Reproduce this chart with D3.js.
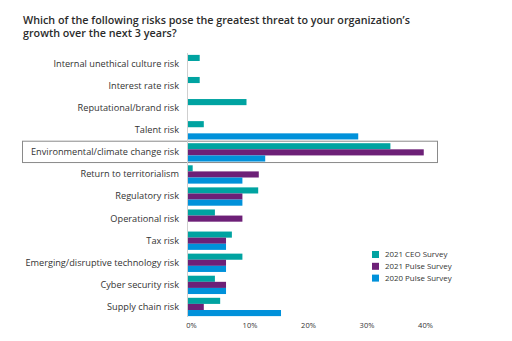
<!DOCTYPE html>
<html>
<head>
<meta charset="utf-8">
<script src="https://cdn.jsdelivr.net/npm/d3@7"></script>
<style>
  body { margin: 0; background: #fff; }
  svg { font-family: "Open Sans", sans-serif; }
</style>
</head>
<body>
<div id="chart"></div>
<script>
const categories = [
  "Internal unethical culture risk",
  "Interest rate risk",
  "Reputational/brand risk",
  "Talent risk",
  "Environmental/climate change risk",
  "Return to territorialism",
  "Regulatory risk",
  "Operational risk",
  "Tax risk",
  "Emerging/disruptive technology risk",
  "Cyber security risk",
  "Supply chain risk"
]
const seriesNames = ["2021 CEO Survey", "2021 Pulse Survey", "2020 Pulse Survey"]
const ceo2021 = [2, 2, 10, 2.7, 34.6, 0.8, 12, 4.6, 7.5, 9.3, 4.6, 5.5]
const pulse2021 = [0, 0, 0, 0, 40.3, 12.1, 9.3, 9.3, 6.5, 6.5, 6.5, 2.7]
const pulse2020 = [0, 0, 0, 29.1, 13.2, 9.3, 9.3, 0, 6.5, 6.5, 6.5, 15.9]
const xTicks = [0, 10, 20, 30, 40]
const highlighted = "Environmental/climate change risk"
const colors = ["#00a3a1", "#6d2077", "#0091da"]

const width = 512
const height = 341
const margin = {top: 53, right: 74, bottom: 23, left: 188}

const rows = categories.map((c, i) => ({
  category: c,
  values: [ceo2021[i], pulse2021[i], pulse2020[i]]
}))

const svg = d3.select("#chart").append("svg")
  .attr("width", width)
  .attr("height", height)

svg.append("text")
  .attr("x", 23)
  .attr("y", 23.5)
  .attr("fill", "#2b2b2b")
  .attr("font-size", 10.75)
  .attr("font-weight", 600)
  .selectAll("tspan")
  .data(["Which of the following risks pose the greatest threat to your organization’s", "growth over the next 3 years?"])
  .join("tspan")
  .attr("x", 23)
  .attr("dy", (d, i) => i ? 13 : 0)
  .text(d => d)

const x = d3.scaleLinear()
  .domain([0, 40])
  .range([margin.left, margin.left + 234])

const y = d3.scaleBand()
  .domain(categories)
  .range([margin.top, height - margin.bottom])
  .paddingInner(0.17)
  .paddingOuter(0.085)

const ySub = d3.scaleBand()
  .domain(d3.range(seriesNames.length))
  .range([0, y.bandwidth()])

// highlight frame
svg.append("rect")
  .attr("x", 22.5)
  .attr("y", y(highlighted) - 2)
  .attr("width", 415)
  .attr("height", y.bandwidth() + 3)
  .attr("fill", "none")
  .attr("stroke", "#8a8a8a")
  .attr("stroke-width", 1)

const groups = svg.append("g")
  .selectAll("g")
  .data(rows)
  .join("g")
  .attr("transform", d => `translate(0, ${y(d.category)})`)

groups.selectAll("rect")
  .data(d => d.values.map((v, i) => ({v, i})))
  .join("rect")
  .attr("x", x(0))
  .attr("y", d => ySub(d.i))
  .attr("width", d => x(d.v) - x(0))
  .attr("height", ySub.bandwidth())
  .attr("fill", d => colors[d.i])

const yAxis = g => g
  .attr("transform", `translate(${margin.left - 9}, 0)`)
  .call(d3.axisLeft(y).tickSize(0).tickPadding(0))
  .call(g => g.select(".domain").remove())
  .call(g => g.selectAll("text")
    .attr("fill", "#333")
    .attr("font-size", 9.2))

svg.append("g").call(yAxis).attr("font-family", null)

svg.append("line")
  .attr("x1", x(0) - 0.5)
  .attr("x2", x(0) - 0.5)
  .attr("y1", margin.top)
  .attr("y2", height - margin.bottom - 1)
  .attr("stroke", "#cfcfcf")

const xAxis = g => g
  .attr("transform", `translate(0, ${height - margin.bottom})`)
  .call(d3.axisBottom(x).tickValues(xTicks).tickFormat(d => d + "%").tickSize(0).tickPadding(5))
  .call(g => g.select(".domain").remove())
  .call(g => g.selectAll("text")
    .attr("fill", "#333")
    .attr("font-size", 7.5)
    .attr("dx", 3))

svg.append("g").call(xAxis).attr("font-family", null)

const legend = svg.append("g")
  .attr("transform", "translate(372, 251)")

const item = legend.selectAll("g")
  .data(seriesNames)
  .join("g")
  .attr("transform", (d, i) => `translate(0, ${i * 11.8})`)

item.append("rect")
  .attr("width", 7)
  .attr("height", 7)
  .attr("fill", (d, i) => colors[i])

item.append("text")
  .attr("x", 13)
  .attr("y", 3.5)
  .attr("dy", "0.35em")
  .attr("fill", "#333")
  .attr("font-size", 7.9)
  .text(d => d)
</script>
</body>
</html>
